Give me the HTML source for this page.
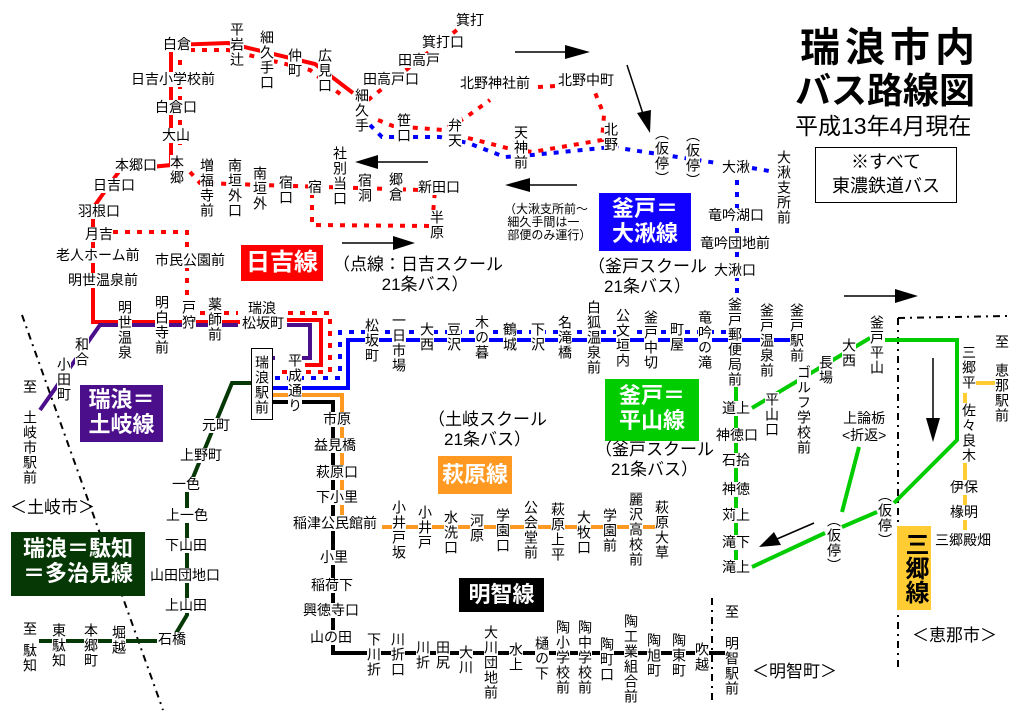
<!DOCTYPE html>
<html><head><meta charset="utf-8">
<style>
body{margin:0;background:#fff;}
#m{position:relative;width:1024px;height:723px;overflow:hidden;background:#fff;font-family:"Liberation Sans","Noto Sans CJK JP",sans-serif;color:#000;}
svg{position:absolute;left:0;top:0;}
.h,.v{position:absolute;font-size:14px;line-height:15px;background:#fff;white-space:nowrap;}
.v{writing-mode:vertical-rl;text-orientation:upright;letter-spacing:1px;line-height:14px;}
.n{background:transparent;}
.box{position:absolute;color:#fff;font-weight:bold;text-align:center;font-size:22px;line-height:25px;}
</style></head><body><div id="m">
<svg width="1024" height="723" viewBox="0 0 1024 723">
<g fill="none" stroke-linejoin="miter">
<!-- boundaries -->
<g stroke="#000" stroke-width="2" stroke-dasharray="7 5 2 5">
<path d="M22 315 L163 710"/><path d="M712 598 L712 705"/><path d="M898 318 L898 670 M898 318 L1007 316"/>
</g>
<!-- red solid -->
<path d="M93 232 L93 322 L240 322 M287 320 L321 320 L321 365 L305 365 M93 232 L93 208 L120 170 L171 165 L171 45 L228 43 L315 64 L353 93" stroke="#f00" stroke-width="4"/>
<!-- red dotted -->
<g stroke="#f00" stroke-width="4" stroke-dasharray="5 7">
<path d="M190 50 L228 50 L310 70 L345 98"/><path d="M180 60 L180 145"/>
<path d="M190 172 L200 183 L420 190"/><path d="M312 193 L312 225 L432 226 L435 190"/>
<path d="M113 232 L187 232 L187 300"/><path d="M200 313 L238 313 M288 313 L330 313 L330 372 L275 372"/>
<path d="M368 100 L462 26"/>
<path d="M378 120 L393 126 L443 130 L465 118 L490 100"/>
<path d="M468 138 L507 148 L532 152 L602 140 L604 115 L594 90"/><path d="M538 87 L556 86"/>
</g>
<!-- blue -->
<g stroke="#00f" stroke-width="4" stroke-dasharray="5 7">
<path d="M370 125 L382 137 L440 137 L468 143 L505 157 L532 155 L612 147 L717 163 M752 168 L775 172"/>
<path d="M737 180 L737 297"/>
<path d="M275 378 L340 378 L340 332 L730 332"/>
</g>
<path d="M273 388 L348 388 L348 340 L790 340" stroke="#00f" stroke-width="4"/>
<!-- purple -->
<path d="M253 358 L275 358 M300 358 L310 358 L310 325 L287 325 M238 325 L100 325 L40 410" stroke="#4b0f8c" stroke-width="4"/>
<!-- orange -->
<path d="M273 395 L342 395 L342 515 M382 527 L655 527" stroke="#f92" stroke-width="4"/>
<!-- black -->
<path d="M273 402 L333 402 L333 653 L725 653" stroke="#000" stroke-width="4"/>
<!-- dark green -->
<path d="M252 383 L232 383 L187 492 L187 615 L172 640 M157 641 L39 641" stroke="#063806" stroke-width="4"/>
<!-- green -->
<path d="M870 338 L752 408 M885 340 L957 340 L957 440 L894 503 M877 512 L842 527 M825 533 L752 567 M859 447 L842 512 M736 385 L736 562" stroke="#00cc00" stroke-width="4"/>
<!-- yellow -->
<path d="M965 393 L965 530 M975 383 L1002 383" stroke="#fc3" stroke-width="4"/>
<!-- arrows -->
<g stroke="#000" stroke-width="1.5">
<path d="M515 52 L575 52"/><path d="M627 65 L645 120"/><path d="M577 185 L515 185"/>
<path d="M428 162 L365 162"/><path d="M342 243 L405 243"/><path d="M844 296 L908 296"/>
<path d="M933 358 L933 430"/><path d="M814 523 L770 542"/>
</g>
</g>
<g fill="#000">
<path d="M590 52 L565 45 L565 59Z"/><path d="M650 133 L637 113 L651 110Z"/><path d="M505 185 L530 178 L530 192Z"/>
<path d="M355 162 L378 155 L378 169Z"/><path d="M415 243 L393 236 L393 250Z"/><path d="M918 296 L895 289 L895 303Z"/>
<path d="M933 442 L926 418 L940 418Z"/><path d="M759 547 L774 532 L781 545Z"/>
</g>
</svg>

<!-- title -->
<div class="h n" style="left:800px;top:26px;font-size:40px;line-height:44px;font-weight:bold;letter-spacing:5px">瑞浪市内</div>
<div class="h n" style="left:795px;top:70px;font-size:36px;line-height:42px;font-weight:bold">バス路線図</div>
<div class="h n" style="left:795px;top:113px;font-size:23px;line-height:27px">平成13年4月現在</div>
<div style="position:absolute;left:815px;top:147px;width:140px;height:52px;border:1px solid #000;font-size:18px;line-height:24px;text-align:center;padding-top:2px">※すべて<br>東濃鉄道バス</div>

<!-- line boxes -->
<div class="box" style="left:241px;top:245px;width:82px;height:36px;background:#f00;line-height:36px;font-size:24px">日吉線</div>
<div class="box" style="left:80px;top:385px;width:83px;height:55px;background:#4b0f8c;padding-top:2px">瑞浪＝<br>土岐線</div>
<div class="box" style="left:11px;top:532px;width:134px;height:60px;background:#063806;padding-top:4px">瑞浪＝駄知<br>＝多治見線</div>
<div class="box" style="left:438px;top:456px;width:74px;height:38px;background:#f92;line-height:38px">萩原線</div>
<div class="box" style="left:459px;top:578px;width:85px;height:34px;background:#000;line-height:34px">明智線</div>
<div class="box" style="left:599px;top:193px;width:92px;height:55px;background:#10f;padding-top:3px">釜戸＝<br>大湫線</div>
<div class="box" style="left:605px;top:379px;width:94px;height:58px;background:#00cc00;padding-top:4px">釜戸＝<br>平山線</div>
<div class="box" style="left:897px;top:526px;width:34px;height:84px;background:#fc3;color:#000;writing-mode:vertical-rl;text-orientation:upright;line-height:34px;font-size:24px">三郷線</div>
<div class="v" style="left:251px;top:348px;width:20px;height:68px;border:1px solid #000;text-align:center;padding-left:0;line-height:20px;padding-top:2px">瑞浪駅前</div>

<!-- notes -->
<div class="h n" style="left:333px;top:255px;font-size:17px;line-height:20px;text-align:center">（点線：日吉スクール<br>&nbsp;&nbsp;&nbsp;21条バス）</div>
<div class="h n" style="left:588px;top:257px;font-size:17px;line-height:20px;text-align:center">（釜戸スクール<br>21条バス）</div>
<div class="h n" style="left:428px;top:410px;font-size:17px;line-height:20px;text-align:center">（土岐スクール<br>21条バス）</div>
<div class="h n" style="left:595px;top:440px;font-size:17px;line-height:20px;text-align:center">（釜戸スクール<br>21条バス）</div>
<div class="h n" style="left:504px;top:203px;font-size:12px;line-height:13px">（大湫支所前～<br>&nbsp;細久手間は一<br>&nbsp;部便のみ運行）</div>
<div class="h n" style="left:10px;top:500px;font-size:17px">＜土岐市＞</div>
<div class="h n" style="left:912px;top:628px;font-size:17px">＜恵那市＞</div>
<div class="h n" style="left:752px;top:664px;font-size:17px">＜明智町＞</div>

<!-- Hiyoshi area -->
<div class="v" style="left:230px;top:22px">平岩辻</div>
<div class="v" style="left:260px;top:30px">細久手口</div>
<div class="v" style="left:288px;top:48px">仲町</div>
<div class="v" style="left:318px;top:48px">広見口</div>
<div class="h" style="left:163px;top:37px">白倉</div>
<div class="h" style="left:131px;top:72px">日吉小学校前</div>
<div class="h" style="left:155px;top:100px">白倉口</div>
<div class="h" style="left:162px;top:128px">大山</div>
<div class="v" style="left:170px;top:155px">本郷</div>
<div class="h" style="left:115px;top:158px">本郷口</div>
<div class="h" style="left:93px;top:178px">日吉口</div>
<div class="h" style="left:78px;top:204px">羽根口</div>
<div class="h" style="left:85px;top:227px">月吉</div>
<div class="h" style="left:56px;top:248px">老人ホーム前</div>
<div class="h" style="left:155px;top:253px">市民公園前</div>
<div class="h" style="left:68px;top:273px">明世温泉前</div>
<div class="v" style="left:200px;top:158px">増福寺前</div>
<div class="v" style="left:228px;top:158px">南垣外口</div>
<div class="v" style="left:253px;top:166px">南垣外</div>
<div class="v" style="left:279px;top:175px">宿口</div>
<div class="h" style="left:308px;top:180px">宿</div>
<div class="v" style="left:333px;top:146px">社別当口</div>
<div class="v" style="left:358px;top:173px">宿洞</div>
<div class="v" style="left:389px;top:172px">郷倉</div>
<div class="h" style="left:418px;top:180px">新田口</div>
<div class="v" style="left:430px;top:210px">半原</div>
<div class="v" style="left:355px;top:88px">細久手</div>
<div class="v" style="left:397px;top:113px">笹口</div>
<div class="v" style="left:448px;top:118px">弁天</div>
<div class="h" style="left:363px;top:72px">田高戸口</div>
<div class="h" style="left:398px;top:53px">田高戸</div>
<div class="h" style="left:422px;top:35px">箕打口</div>
<div class="h" style="left:456px;top:13px">箕打</div>
<div class="h" style="left:460px;top:76px">北野神社前</div>
<div class="h" style="left:558px;top:73px">北野中町</div>
<div class="v" style="left:514px;top:125px">天神前</div>
<div class="v" style="left:604px;top:122px">北野</div>
<div class="v" style="left:655px;top:126px">（仮停）</div>
<div class="v" style="left:686px;top:128px">（仮停）</div>
<div class="h" style="left:722px;top:160px">大湫</div>
<div class="v" style="left:777px;top:150px">大湫支所前</div>
<div class="h" style="left:708px;top:208px">竜吟湖口</div>
<div class="h" style="left:700px;top:236px">竜吟団地前</div>
<div class="h" style="left:714px;top:263px">大湫口</div>

<!-- main row -->
<div class="v" style="left:118px;top:300px">明世温泉</div>
<div class="v" style="left:155px;top:295px">明白寺前</div>
<div class="v" style="left:182px;top:300px">戸狩</div>
<div class="v" style="left:208px;top:297px">薬師前</div>
<div class="h" style="left:248px;top:301px">瑞浪</div>
<div class="h" style="left:242px;top:316px">松坂町</div>
<div class="v" style="left:288px;top:353px">平成通り</div>
<div class="v" style="left:365px;top:318px">松坂町</div>
<div class="v" style="left:392px;top:313px">一日市場</div>
<div class="v" style="left:420px;top:322px">大西</div>
<div class="v" style="left:447px;top:322px">豆沢</div>
<div class="v" style="left:475px;top:315px">木の暮</div>
<div class="v" style="left:503px;top:322px">鶴城</div>
<div class="v" style="left:531px;top:322px">下沢</div>
<div class="v" style="left:558px;top:315px">名滝橋</div>
<div class="v" style="left:587px;top:300px">白狐温泉前</div>
<div class="v" style="left:616px;top:308px">公文垣内</div>
<div class="v" style="left:644px;top:310px">釜戸中切</div>
<div class="v" style="left:670px;top:322px">町屋</div>
<div class="v" style="left:698px;top:310px">竜吟の滝</div>
<div class="v" style="left:728px;top:297px">釜戸郵便局前</div>
<div class="v" style="left:760px;top:303px">釜戸温泉前</div>
<div class="v" style="left:790px;top:303px">釜戸駅前</div>
<div class="v" style="left:819px;top:355px">長場</div>
<div class="v" style="left:842px;top:338px">大西</div>
<div class="v" style="left:870px;top:315px">釜戸平山</div>
<div class="v" style="left:797px;top:365px">ゴルフ学校前</div>
<div class="v" style="left:765px;top:392px">平山口</div>
<div class="h" style="left:722px;top:401px">道上</div>
<div class="h" style="left:716px;top:428px">神徳口</div>
<div class="h" style="left:722px;top:453px">石拾</div>
<div class="h" style="left:722px;top:482px">神徳</div>
<div class="h" style="left:722px;top:508px">苅上</div>
<div class="h" style="left:722px;top:535px">滝下</div>
<div class="h" style="left:722px;top:560px">滝上</div>
<div class="h n" style="left:842px;top:410px;text-align:center;line-height:17px">上論栃<br>&lt;折返&gt;</div>
<div class="v" style="left:827px;top:513px">（仮停）</div>
<div class="v" style="left:878px;top:488px">（仮停）</div>
<div class="v" style="left:962px;top:345px">三郷平</div>
<div class="v" style="left:962px;top:403px">佐々良木</div>
<div class="h" style="left:950px;top:480px">伊保</div>
<div class="h" style="left:950px;top:505px">椽明</div>
<div class="h" style="left:935px;top:533px">三郷殿畑</div>
<div class="h" style="left:995px;top:335px">至</div>
<div class="v" style="left:995px;top:363px">恵那駅前</div>

<!-- left bottom -->
<div class="v" style="left:75px;top:337px">和合</div>
<div class="v" style="left:57px;top:357px">小田町</div>
<div class="h" style="left:23px;top:380px">至</div>
<div class="v" style="left:23px;top:410px">土岐市駅前</div>
<div class="h" style="left:202px;top:418px">元町</div>
<div class="h" style="left:180px;top:448px">上野町</div>
<div class="h" style="left:172px;top:477px">一色</div>
<div class="h" style="left:166px;top:508px">上一色</div>
<div class="h" style="left:165px;top:538px">下山田</div>
<div class="h" style="left:150px;top:568px">山田団地口</div>
<div class="h" style="left:165px;top:598px">上山田</div>
<div class="h" style="left:158px;top:632px">石橋</div>
<div class="h" style="left:23px;top:622px">至</div>
<div class="v" style="left:23px;top:643px">駄知</div>
<div class="v" style="left:52px;top:623px">東駄知</div>
<div class="v" style="left:84px;top:623px">本郷町</div>
<div class="v" style="left:112px;top:625px">堀越</div>

<!-- center bottom -->
<div class="h" style="left:323px;top:412px">市原</div>
<div class="h" style="left:314px;top:438px">益見橋</div>
<div class="h" style="left:316px;top:465px">萩原口</div>
<div class="h" style="left:316px;top:490px">下小里</div>
<div class="h" style="left:293px;top:516px">稲津公民館前</div>
<div class="v" style="left:392px;top:500px">小井戸坂</div>
<div class="v" style="left:418px;top:505px">小井戸</div>
<div class="v" style="left:444px;top:510px">水洗口</div>
<div class="v" style="left:470px;top:513px">河原</div>
<div class="v" style="left:496px;top:508px">学園口</div>
<div class="v" style="left:524px;top:500px">公会堂前</div>
<div class="v" style="left:551px;top:502px">萩原上平</div>
<div class="v" style="left:577px;top:510px">大牧口</div>
<div class="v" style="left:603px;top:508px">学園前</div>
<div class="v" style="left:629px;top:492px">麗沢高校前</div>
<div class="v" style="left:655px;top:500px">萩原大草</div>
<div class="h" style="left:320px;top:550px">小里</div>
<div class="h" style="left:311px;top:578px">稲荷下</div>
<div class="h" style="left:303px;top:603px">興徳寺口</div>
<div class="h" style="left:310px;top:630px">山の田</div>
<div class="v" style="left:367px;top:632px">下川折</div>
<div class="v" style="left:391px;top:632px">川折口</div>
<div class="v" style="left:416px;top:640px">川折</div>
<div class="v" style="left:436px;top:640px">田尻</div>
<div class="v" style="left:459px;top:645px">大川</div>
<div class="v" style="left:484px;top:625px">大川団地前</div>
<div class="v" style="left:509px;top:642px">水上</div>
<div class="v" style="left:535px;top:636px">樋の下</div>
<div class="v" style="left:556px;top:620px">陶小学校前</div>
<div class="v" style="left:578px;top:620px">陶中学校前</div>
<div class="v" style="left:600px;top:637px">陶町口</div>
<div class="v" style="left:624px;top:614px">陶工業組合前</div>
<div class="v" style="left:647px;top:633px">陶旭町</div>
<div class="v" style="left:672px;top:633px">陶東町</div>
<div class="v" style="left:695px;top:642px">吹越</div>
<div class="h" style="left:725px;top:605px">至</div>
<div class="v" style="left:725px;top:636px">明智駅前</div>
</div></body></html>
